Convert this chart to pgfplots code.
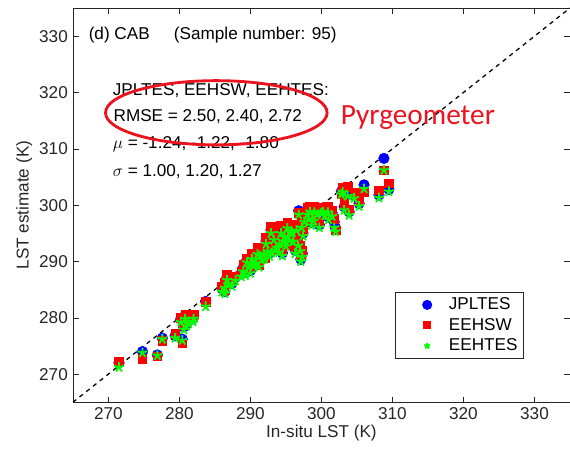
\documentclass[border=0pt]{standalone}
\usepackage{pgfplots}
\usepackage{pgfplotstable}
\pgfplotsset{compat=1.18}
\usepackage{fontspec}
\setmainfont{Liberation Sans}
\newfontfamily\calib{Carlito}
\definecolor{mblue}{RGB}{0,0,255}
\definecolor{mred}{RGB}{255,0,0}
\definecolor{mgreen}{RGB}{0,255,0}
\definecolor{ered}{RGB}{235,20,30}
\definecolor{axgray}{RGB}{38,38,38}
\pgfplotsset{legmark/.style={legend image code/.code={\path (0,0) (1.15cm,0); \draw[##1, mark size=#1] plot coordinates {(0.7cm,0cm)};}}}

\pgfplotstableread{
x     J      E      T
271.5 272.0  272.3  271.2
274.8 274.0  272.7  273.8
276.9 273.4  273.2  273.3
277.6 276.4  275.9  276.2
279.4 276.8  277.2  276.4
280.4 276.2  275.5  276.0
280.2 279.8  280.0  279.2
280.8 280.4  280.5  279.8
281.3 279.6  279.8  278.9
281.9 279.8  280.1  279.3
280.6 278.4  278.7  277.9
281.0 278.9  279.3  278.5
283.7 282.9  282.8  282.0
286.0 285.2  285.6  284.6
286.4 285.9  286.3  285.3
286.9 286.6  287.0  286.0
287.4 286.1  286.5  285.6
287.9 287.2  287.4  286.6
286.4 284.7  285.0  284.3
289.0 288.9  289.4  288.2
289.3 288.0  288.4  287.5
289.7 289.7  289.4  289.0
290.0 288.4  288.9  287.9
290.4 289.9  290.1  289.2
290.8 290.5  290.2  289.7
291.2 289.6  289.3  289.0
291.6 290.8  291.0  290.3
291.3 291.6  292.1  291.0
292.0 291.0  290.6  290.4
292.4 292.4  292.7  291.8
292.7 291.5  291.8  290.9
292.9 295.6  296.2  295.0
293.3 294.5  295.0  293.8
293.7 293.0  293.5  292.4
294.0 292.2  292.5  291.6
294.3 295.6  296.4  295.0
294.6 294.2  294.6  293.6
295.0 293.3  293.0  292.7
295.3 295.0  295.4  294.4
295.7 296.0  295.6  295.2
296.0 294.0  294.5  293.5
296.3 292.0  292.4  291.4
296.7 293.3  293.8  292.8
297.1 290.4  291.2  290.0
296.8 299.0  298.6  298.3
297.2 296.5  297.0  296.0
297.6 297.6  298.0  297.0
298.0 298.8  299.5  298.3
298.4 299.4  299.8  298.8
298.9 297.8  298.3  297.2
299.4 298.9  299.2  298.3
299.9 299.1  299.5  298.6
299.7 296.5  297.0  296.0
300.2 299.5  299.1  298.8
300.5 298.6  299.0  298.1
301.0 297.9  298.3  297.4
301.8 297.0  297.6  296.0
302.0 295.9  295.5  295.3
302.8 302.4  302.0  301.9
303.2 299.7  300.2  299.1
303.7 302.0  303.3  301.6
303.9 298.8  299.2  298.2
304.6 301.8  302.2  301.2
305.3 300.3  300.7  299.8
306.0 303.6  302.4  302.9
308.1 301.8  302.6  301.3
308.8 308.3  306.2  306.2
309.5 302.8  303.9  302.4
293.5 292.5  292.9  292.0
294.8 294.9  295.3  294.3
295.5 294.2  294.7  293.7
293.0 292.0  292.3  291.5
291.9 291.8  292.2  291.2
290.6 290.0  290.3  289.4
288.7 287.8  288.2  287.3
289.5 290.3  290.6  289.8
294.1 293.6  294.0  293.1
295.9 295.6  296.0  295.1
296.5 296.0  296.5  295.5
297.4 295.0  295.4  294.5
297.0 292.3  292.8  291.8
297.3 291.4  292.0  290.8
298.2 298.1  298.5  297.5
299.0 299.3  299.7  298.7
300.9 299.2  299.7  298.7
301.5 298.6  299.0  298.0
295.2 296.4  296.9  295.9
292.2 293.6  294.2  293.1
291.0 291.9  292.4  291.3
290.2 291.0  291.4  290.4
286.7 287.2  287.6  286.7
282.0 280.3  280.6  279.8
294.5 291.5  291.9  291.0
298.6 296.9  297.4  296.4
303.0 302.8  303.2  302.3
}\data

\begin{document}
\begin{tikzpicture}
\begin{axis}[
  name=ax,
  scale only axis,
  width=348pt, height=276pt,
  xmin=265, xmax=335, ymin=265, ymax=335,
  xtick={270,280,...,330}, ytick={270,280,...,330},
  /pgf/number format/assume math mode=true,
  /pgf/number format/1000 sep={},
  tick label style={font=\fontsize{12}{14}\selectfont, text=axgray},
  label style={font=\fontsize{12}{14}\selectfont, text=axgray},
  axis line style={axgray},
  major tick style={axgray},
  major tick length=4pt,
  xlabel={In-situ LST (K)},
  ylabel={LST estimate (K)},
  xlabel style={yshift=3pt},
  ylabel style={yshift=-2pt},
  legend cell align=left,
  legend style={at={(rel axis cs:0.907,0.109)}, anchor=south east,
    font=\fontsize{12}{14}\selectfont, draw=axgray, line width=0.8pt,
    inner xsep=2pt, inner ysep=2pt, row sep=0.5pt,
    /tikz/every even column/.append style={column sep=4pt}},
  clip=true,
]
\addplot[black, dashed, line width=0.9pt, forget plot] coordinates {(265,265) (335,335)};
\addplot[only marks, mark=*, mark size=3.7pt, color=mblue, mark options={fill=mblue, draw=mblue}, legmark=3.1pt] table[x=x, y=J] {\data};
\addlegendentry{JPLTES}
\addplot[only marks, mark=square*, mark size=3.0pt, color=mred, mark options={fill=mred, draw=mred}, legmark=2.4pt] table[x=x, y=E] {\data};
\addlegendentry{EEHSW}
\addplot[only marks, mark=star, mark size=3.6pt, color=mgreen, mark options={fill=mgreen, draw=mgreen, line width=1.3pt}, legmark=2.2pt] table[x=x, y=T] {\data};
\addlegendentry{EEHTES}

\node[anchor=west, font=\fontsize{12}{14}\selectfont, inner sep=0pt] at (axis cs:267.2,330.2) {(d) CAB};
\node[anchor=west, font=\fontsize{12}{14}\selectfont, inner sep=0pt] at (axis cs:279.2,330.2) {(Sample number: 95)};
\node[anchor=west, font=\fontsize{12}{14}\selectfont, inner sep=0pt] at (axis cs:270.6,320.4) {JPLTES, EEHSW, EEHTES:};
\node[anchor=west, font=\fontsize{12}{14}\selectfont, inner sep=0pt] at (axis cs:270.7,315.8) {RMSE = 2.50, 2.40, 2.72};
\node[anchor=west, font=\fontsize{12}{14}\selectfont, inner sep=0pt] at (axis cs:270.6,310.8) {$\mu$ = -1.24, -1.22, -1.80};
\node[anchor=west, font=\fontsize{12}{14}\selectfont, inner sep=0pt] at (axis cs:270.6,306.0) {$\sigma$ = 1.00, 1.20, 1.27};
\draw[ered, line width=2pt] (axis cs:285.2,316.4) ellipse [x radius=15.6, y radius=5.7];
\node[anchor=west, text=ered, font=\calib\fontsize{20.5}{24}\selectfont, inner sep=0pt] at (axis cs:302.7,315.5) {Pyrgeometer};
\end{axis}
\pgfresetboundingbox
\path ([shift={(-51pt,-37pt)}]ax.south west) rectangle ([shift={(0pt,5.6pt)}]ax.north east);
\end{tikzpicture}
\end{document}
